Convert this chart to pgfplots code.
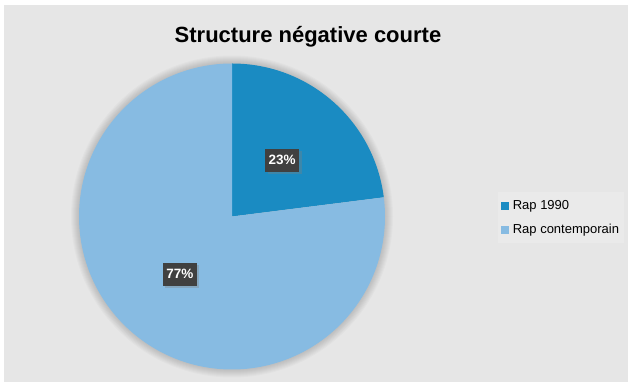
\documentclass[border=0pt]{standalone}
\usepackage{fontspec}
\setmainfont{Liberation Sans}
\usepackage{pgfplots}
\usepackage{pgfplotstable}
\pgfplotsset{compat=1.18}
\usetikzlibrary{shadows}
\definecolor{bg}{HTML}{E6E6E6}
\definecolor{bgl}{HTML}{EAEAEA}
\definecolor{cA}{HTML}{1A8BC2}
\definecolor{cB}{HTML}{87BBE2}
\definecolor{lbl}{HTML}{404040}
\pgfplotstableread{
label value
{Rap 1990} 23
{Rap contemporain} 77
}\piedata
\begin{document}%
\begin{tikzpicture}[x=1pt,y=1pt]
\pgfplotstablegetelem{0}{value}\of\piedata \edef\va{\pgfplotsretval}
\pgfplotstablegetelem{1}{value}\of\piedata \edef\vb{\pgfplotsretval}
\fill[white] (0,0) rectangle (628,385);
\fill[bg] (4,3) rectangle (628,380);
\node[font=\bfseries\fontsize{22}{26}\selectfont, anchor=center] at (308,348) {Structure négative courte};
% soft shadow round the pie
\foreach \r in {161,160,159,158,157,156,155,154} {
  \fill[black, opacity=0.02] (232,168.5) circle (\r);
}
\begin{axis}[
  at={(232pt,168.5pt)}, anchor=center,
  scale only axis, width=306pt, height=306pt,
  xmin=-1, xmax=1, ymin=-1, ymax=1,
  hide axis, clip=false,
  legend style={at={(1.368,0.497)}, anchor=west, draw=none, fill=bgl,
    font=\fontsize{13}{15}\selectfont, row sep=9pt, inner xsep=3pt, inner ysep=6pt,
    /tikz/every odd column/.append style={column sep=3pt}},
  legend cell align=left,
]
\fill[cA] (axis cs:0,0) -- (axis cs:0,1) arc[start angle=90, end angle={90-3.6*\va}, radius=153pt] -- cycle;
\fill[cB] (axis cs:0,0) -- (axis cs:0,1) arc[start angle=90, end angle={90+3.6*\vb}, radius=153pt] -- cycle;
\node[fill=lbl, text=white, font=\bfseries\fontsize{13.5}{15}\selectfont, inner xsep=3.5pt, minimum height=23pt,
  drop shadow={shadow xshift=2.5pt, shadow yshift=-2.5pt, opacity=0.35}] at (axis cs:0.327,0.369) {23\%};
\node[fill=lbl, text=white, font=\bfseries\fontsize{13.5}{15}\selectfont, inner xsep=3.5pt, minimum height=23pt,
  drop shadow={shadow xshift=2.5pt, shadow yshift=-2.5pt, opacity=0.35}] at (axis cs:-0.34,-0.376) {77\%};
\addlegendimage{only marks, mark=square*, mark size=3.5pt, color=cA}
\addlegendentry{Rap 1990}
\addlegendimage{only marks, mark=square*, mark size=3.5pt, color=cB}
\addlegendentry{Rap contemporain}
\end{axis}
\end{tikzpicture}%
\end{document}
